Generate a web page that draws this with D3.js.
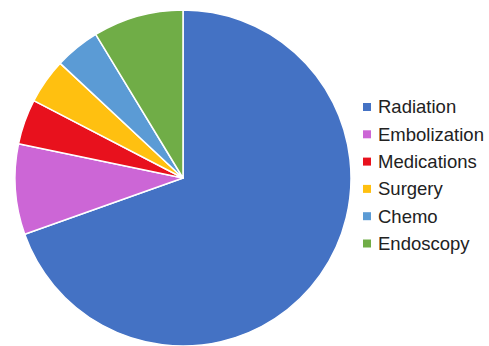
<!DOCTYPE html>
<html><head><meta charset="utf-8">
<script src="https://cdn.jsdelivr.net/npm/d3@7"></script>
<style>html,body{margin:0;padding:0;background:#fff;}</style>
</head><body>
<svg id="c" width="489" height="346"></svg>
<script>
const categories = ["Radiation","Embolization","Medications","Surgery","Chemo","Endoscopy"];
const values = [16, 2, 1, 1, 1, 2];
const colors = ["#4472C4","#CC66D6","#E8111D","#FFC010","#5B9BD5","#70AD47"];

const svg = d3.select("#c");
const cx = 183, cy = 178, r = 168;
const pie = d3.pie().sort(null).value(d => d.v);
const arc = d3.arc().innerRadius(0).outerRadius(r);
const data = categories.map((c,i)=>({c, v: values[i], col: colors[i]}));
const g = svg.append("g").attr("transform", `translate(${cx},${cy})`);
g.selectAll("path").data(pie(data)).join("path")
  .attr("d", arc).attr("fill", d => d.data.col)
  .attr("stroke", "#fff").attr("stroke-width", 1.5).attr("stroke-linejoin","round");

const y = d3.scalePoint().domain(categories).range([107, 243.5]);
const lg = svg.append("g");
lg.selectAll("rect").data(data).join("rect")
  .attr("x", 363).attr("y", d => y(d.c) - 4).attr("width", 8).attr("height", 8)
  .attr("fill", d => d.col);
lg.selectAll("text").data(data).join("text")
  .attr("x", 378).attr("y", d => y(d.c)).attr("dy", "0.35em")
  .attr("font-family", "'Liberation Sans', Arial, Helvetica, sans-serif")
  .attr("font-size", 18.5).attr("fill", "#222").text(d => d.c);
</script>
</body></html>
